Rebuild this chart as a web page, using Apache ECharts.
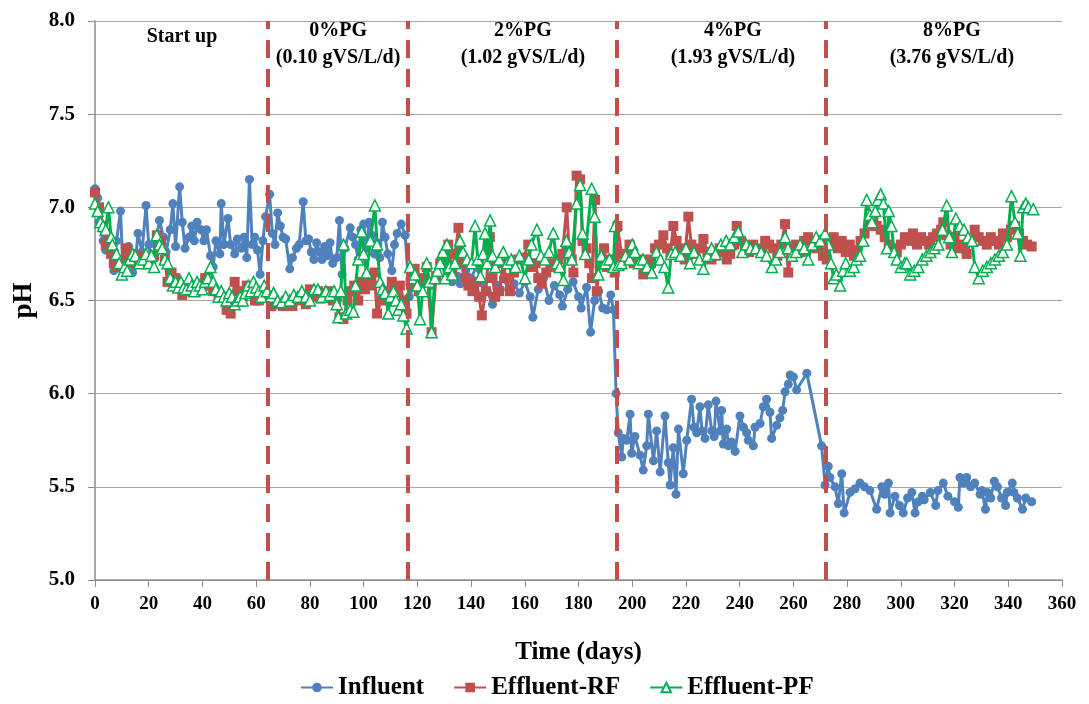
<!DOCTYPE html>
<html><head><meta charset="utf-8">
<script src="https://cdn.jsdelivr.net/npm/echarts@6/dist/echarts.min.js"></script>
<style>html,body{margin:0;padding:0;background:#fff}#c{width:1089px;height:704px}</style>
</head><body><div id="c"></div>
<script>
// ---- data ----
const influent = [[0,7.10],[1,7.05],[1.5,6.92],[3,6.82],[4,6.77],[5,6.84],[6,6.80],[7,6.66],[8,6.82],[9.5,6.98],[10.5,6.64],[11.5,6.72],[12.5,6.79],[14,6.65],[15,6.70],[16,6.86],[17.5,6.76],[19,7.01],[20,6.80],[21,6.71],[22.5,6.80],[24,6.93],[25.5,6.84],[26.5,6.76],[28,6.88],[29,7.02],[30,6.79],[31.5,7.11],[32.5,6.92],[33.5,6.78],[35,6.84],[36,6.90],[37,6.82],[38,6.92],[39.5,6.88],[40.5,6.82],[41.5,6.88],[43,6.74],[44,6.68],[45,6.82],[46.5,6.75],[47,7.02],[48,6.80],[49.5,6.94],[50.5,6.80],[52,6.75],[53,6.83],[54.5,6.78],[55.5,6.84],[56.5,6.73],[57.5,7.15],[58.5,6.80],[59.5,6.84],[60.5,6.77],[61.5,6.64],[62.5,6.82],[63.5,6.95],[65,7.07],
[66,6.86],[67,6.80],[68,6.97],[69,6.90],[70,6.84],[71,6.83],[72.5,6.67],[73.5,6.73],[75,6.78],[76,6.80],[77.5,7.03],[78.5,6.82],[79.5,6.83],[80.5,6.76],[81.5,6.72],[82.5,6.81],[83.5,6.76],[84.5,6.72],[85.5,6.79],[86.5,6.74],[87.5,6.81],[88.5,6.70],[90,6.73],[91,6.93],[92,6.64],[93,6.78],[95,6.89],[96,6.84],[97,6.80],[98,6.72],[99,6.88],[100,6.91],[101,6.78],[102,6.92],[103,6.85],[104,6.75],[105,6.81],[106,6.73],[107,6.92],[108,6.84],[109,6.75],[110.5,6.66],[111.5,6.80],[112.5,6.86],[114,6.91],[115.5,6.85],
[117,6.52],[119,6.60],[121,6.56],[123,6.62],[125,6.58],[127,6.64],[129.5,6.75],[131,6.66],[133,6.60],[135,6.63],[136,6.59],[138,6.66],[140,6.62],[142,6.68],[144,6.60],[146,6.55],[148,6.48],[150,6.58],[152,6.62],[154,6.56],[156,6.59],[158,6.54],[160,6.60],[162,6.52],[163,6.41],[165,6.56],[167,6.62],[169,6.50],[171,6.58],[173,6.53],[174,6.47],[176,6.56],[178,6.60],[180,6.52],[181,6.46],[183,6.57],[184.5,6.33],[186,6.50],[187.5,6.55],[189,6.46],[190.5,6.45],[192,6.53],[193,6.45],[194,6.00],
[194.8,5.79],[196.1,5.66],[196.7,5.76],[198,5.75],[199.2,5.89],[199.8,5.68],[201,5.77],[202.9,5.67],[204.1,5.59],[205.4,5.72],[206,5.89],[207.9,5.64],[209.1,5.80],[210.4,5.58],[212.2,5.88],[213.4,5.63],[214.1,5.51],[215.3,5.71],[216.3,5.46],[217.2,5.81],[219,5.57],[220.3,5.75],[222.1,5.97],[223,5.82],[224,5.79],[225.2,5.93],[226,5.80],[227.1,5.76],[228.3,5.94],[229.6,5.80],[230.5,5.77],[231.2,5.96],[232.7,5.80],[233.3,5.91],[233.9,5.73],[235.2,5.81],[235.8,5.72],[237,5.74],[238.3,5.69],[240.1,5.88],[241.4,5.82],[242.6,5.79],[243.2,5.75],[245.1,5.72],[245.7,5.82],[247.6,5.84],[248.8,5.93],[250,5.97],[251.3,5.90],[251.9,5.76],[253.8,5.83],[255,5.87],[256,5.91],[256.9,6.01],[258.1,6.05],[258.8,6.10],[260,6.09],[261.2,6.02],[265,6.11],[270.5,5.72],[271.8,5.51],
[273,5.61],[273.6,5.55],[275.5,5.50],[276.7,5.41],[278,5.57],[278.9,5.36],[281.1,5.47],[283,5.49],[284.8,5.52],[286.5,5.50],[288.5,5.48],[291,5.38],[292.9,5.50],[294,5.46],[295.4,5.52],[296,5.36],[297.8,5.45],[299.5,5.40],[300.9,5.36],[302.5,5.44],[304.1,5.47],[305.3,5.36],[306.5,5.42],[308,5.45],[308.7,5.43],[311,5.47],[313,5.40],[313.8,5.48],[315.8,5.52],[317.5,5.45],[320,5.42],[321.4,5.39],[322,5.55],[323.3,5.52],[324.5,5.55],[326,5.50],[327.5,5.52],[329.5,5.46],[330.2,5.48],[331.5,5.38],[332.2,5.47],[333.5,5.44],[334.8,5.53],[336,5.50],[337.5,5.44],[339,5.40],[339.6,5.47],[341.5,5.52],[342.1,5.47],[343.4,5.44],[345.3,5.38],[346.5,5.44],[348.7,5.42]];

const effluentRF = [[0,7.08],[1.5,7.00],[3,6.90],[4,6.80],[5,6.82],[6,6.75],[7,6.70],[8,6.68],[10,6.72],[11.5,6.78],[13,6.75],[14.5,6.70],[16,6.74],[18,6.72],[20,6.70],[22,6.74],[23,6.85],[24.5,6.82],[26,6.72],[27,6.60],[28.5,6.65],[30,6.62],[31,6.58],[32.5,6.53],[34,6.55],[36,6.58],[37.5,6.55],[39.5,6.56],[41,6.62],[42.5,6.58],[44,6.55],[46,6.53],[47.5,6.52],[49,6.45],[50.5,6.43],[52,6.60],[53.5,6.55],[55,6.52],[56.5,6.58],[58,6.55],[59.5,6.50],[61,6.50],[62.5,6.55],[64,6.52],
[65.5,6.47],[67,6.48],[68.5,6.48],[70,6.47],[71.5,6.50],[73.5,6.47],[75,6.50],[77,6.52],[78.5,6.48],[80,6.56],[81.5,6.52],[83,6.55],[84,6.51],[85.5,6.54],[87,6.55],[88.5,6.50],[90,6.52],[91,6.41],[92.5,6.40],[94,6.50],[95,6.55],[96.5,6.58],[98,6.50],[99,6.60],[100.5,6.56],[101.5,6.62],[103,6.58],[104,6.65],[105,6.43],[106.5,6.50],[107.5,6.55],[109,6.52],[110.5,6.60],[112,6.55],[113.5,6.58],[115,6.50],[116,6.43],
[117.5,6.60],[119,6.67],[120.5,6.55],[122,6.62],[123.5,6.68],[125.3,6.33],[127,6.63],[128.5,6.70],[130,6.72],[131.5,6.80],[133,6.65],[134,6.75],[135.3,6.89],[136.5,6.70],[138,6.62],[139,6.58],[140.5,6.55],[142,6.60],[143,6.52],[144,6.42],[145.5,6.55],[147,6.84],[148,6.62],[149,6.52],[150.5,6.55],[152,6.70],[153,6.62],[154.5,6.55],[156,6.65],[157.5,6.72],[159.5,6.73],[161.3,6.80],[162.5,6.68],[164,6.70],[165,6.62],[166.3,6.59],[168,6.65],[169.5,6.70],[171,6.68],[172.5,6.72],[174,6.75],[175.6,7.00],[176.5,6.78],[177.5,6.72],[178.1,6.65],[179.3,7.17],[180.6,7.15],[181.5,6.82],[183,6.78],[184,6.70],[185,6.62],[186.2,7.04],[186.8,6.55],[188,6.72],[189.5,6.78],[190.5,6.68],[192,6.72],[193.5,6.65],[194.5,6.90],
[196,6.75],[197.5,6.72],[199,6.80],[200.5,6.70],[202,6.72],[204.1,6.64],[205.5,6.72],[207,6.70],[208.5,6.78],[210,6.80],[211.6,6.85],[213,6.78],[214.2,6.75],[215.3,6.90],[216.5,6.82],[218,6.78],[219.5,6.72],[220.9,6.95],[222,6.80],[223.5,6.75],[225,6.78],[226.5,6.83],[228,6.76],[229.5,6.72],[231,6.74],[232.5,6.78],[234,6.76],[235.2,6.72],[236.5,6.75],[238,6.80],[238.9,6.90],[240.5,6.82],[242,6.78],[243.5,6.76],[245,6.80],[246.5,6.78],[248,6.76],[249.5,6.82],[251,6.80],[252.5,6.78],[254,6.74],[255.5,6.80],[256.9,6.91],[258.1,6.65],[259.5,6.78],[261,6.80],[262.5,6.76],[264,6.82],[265.5,6.84],[267,6.80],[268.5,6.78],[270,6.82],[271,6.74],
[272.4,6.72],[273.5,6.80],[275,6.84],[276.5,6.78],[278,6.82],[279.5,6.76],[281,6.80],[282.5,6.74],[283.6,6.77],[285,6.82],[286.5,6.86],[288,6.90],[289.8,6.95],[291,6.90],[292.5,6.88],[294,6.84],[295.5,6.80],[297,6.78],[298.5,6.76],[300,6.80],[301.5,6.84],[303,6.82],[304.5,6.86],[306,6.80],[307.5,6.84],[309,6.82],[310.5,6.80],[312,6.84],[313.5,6.86],[315,6.88],[315.8,6.92],[317,6.85],[318.5,6.80],[320,6.84],[321.5,6.78],[323,6.80],[324.5,6.75],[326,6.82],[327.5,6.88],[329,6.84],[330.5,6.82],[332,6.80],[333.5,6.84],[335,6.82],[336.5,6.80],[338,6.86],[339.5,6.84],[341,6.88],[342.5,6.90],[344,6.86],[345.5,6.82],[347,6.80],[348.7,6.79]];

const effluentPF = [[0,7.02],[1,6.98],[2,6.92],[3,6.90],[4,6.88],[5,7.00],[6,6.84],[6.5,6.80],[8,6.75],[9,6.70],[10,6.64],[11,6.68],[12,6.66],[13,6.72],[14,6.75],[15,6.74],[16.5,6.70],[18,6.72],[19,6.75],[20,6.70],[21,6.74],[22,6.68],[23,6.85],[24,6.80],[25,6.78],[26,6.72],[27,6.70],[28,6.62],[29,6.58],[30,6.60],[31,6.57],[32,6.60],[33,6.57],[34,6.56],[35,6.62],[36,6.58],[37,6.55],[38,6.60],[39,6.58],[40,6.56],[41,6.60],[42,6.62],[43,6.68],[44,6.60],[45,6.56],[46,6.52],[47,6.55],[48,6.52],[49,6.50],[50,6.54],[51,6.52],[52,6.48],[53,6.50],[54,6.52],[55,6.50],[56,6.54],[57,6.58],[58,6.55],[59,6.60],[60,6.57],[61,6.55],[62,6.52],[63,6.58],[64,6.55],
[65.5,6.52],[66.5,6.54],[68,6.50],[69.5,6.49],[71,6.52],[72.5,6.50],[74,6.53],[75.5,6.52],[77,6.55],[78.5,6.52],[80,6.50],[81.5,6.56],[83,6.56],[84.5,6.52],[86,6.55],[87.5,6.53],[89,6.55],[90,6.48],[90.6,6.41],[91.5,6.55],[92.5,6.80],[93.5,6.43],[95,6.45],[96.2,6.44],[97,6.58],[98,6.72],[99.3,6.87],[100,6.75],[101.1,6.65],[102.5,6.82],[104.2,7.01],[105,6.80],[106.1,6.60],[107,6.56],[108,6.54],[109.2,6.43],[110,6.52],[111.1,6.55],[112,6.50],[112.9,6.45],[114,6.48],[114.8,6.42],[116,6.35],
[117.3,6.68],[118,6.62],[119.1,6.64],[120,6.58],[121,6.40],[122,6.55],[123.5,6.70],[124.5,6.60],[125.3,6.33],[126.5,6.62],[127.5,6.66],[128.5,6.70],[129.5,6.76],[130.3,6.62],[131,6.80],[132,6.68],[133,6.64],[134,6.70],[135.9,6.82],[137,6.76],[138.5,6.72],[140.2,6.70],[141.5,6.90],[142.5,6.72],[143.5,6.63],[144.5,6.75],[145.2,6.86],[146,6.70],[147.1,6.93],[148,6.74],[149,6.68],[150.5,6.72],[152,6.76],[153.5,6.70],[155,6.72],[156.5,6.68],[158,6.74],[160.1,6.62],[161.5,6.72],[162.5,6.80],[164.5,6.88],[166,6.74],[167.5,6.72],[169,6.76],[170.6,6.86],[172,6.70],[173,6.68],[174.4,6.61],[175.5,6.82],[176.5,6.76],[177.5,6.72],[179.3,7.02],[180.6,7.12],[181.5,6.86],[182.5,6.75],[184.9,7.10],[186,6.95],[187.4,6.64],[188.5,6.74],[190,6.70],[191.5,6.72],[193,6.68],[193.6,6.90],[194.8,6.69],
[196,6.70],[197.5,6.74],[199,6.72],[200,6.80],[201,6.76],[202.5,6.70],[204,6.72],[205.5,6.68],[207.3,6.65],[209,6.76],[210.5,6.72],[212,6.68],[213.4,6.57],[214.5,6.75],[216,6.76],[218,6.74],[220,6.78],[221.5,6.70],[223,6.76],[225,6.72],[226.5,6.67],[228,6.74],[229.5,6.78],[231,6.75],[233,6.80],[235,6.82],[236.5,6.80],[238,6.84],[239.5,6.87],[241,6.76],[242.5,6.80],[244,6.78],[246,6.78],[248,6.76],[250,6.74],[252,6.68],[253.5,6.72],[255,6.76],[256.9,6.84],[258,6.78],[259.5,6.74],[261,6.76],[262.5,6.80],[264,6.78],[265.5,6.72],[267,6.80],[268.5,6.84],[270,6.82],[271.8,6.86],
[273,6.80],[274,6.70],[275,6.62],[276,6.64],[277.4,6.58],[278.5,6.66],[279.5,6.70],[281,6.66],[282.5,6.68],[283.5,6.72],[284.8,6.74],[286,6.82],[287.3,7.04],[288.5,6.96],[289.2,6.92],[290.5,6.98],[291.5,7.04],[292.5,7.07],[293.5,7.02],[294.8,6.78],[295.5,6.98],[296.5,6.90],[297.5,6.76],[298.5,6.72],[300,6.68],[301.5,6.70],[302.2,6.70],[303.5,6.64],[305,6.66],[306.5,6.68],[308,6.72],[309.5,6.74],[311,6.76],[312.5,6.78],[314,6.80],[315.5,6.88],[317.1,7.01],[318,6.84],[319,6.76],[320.5,6.94],[322,6.90],[323.5,6.88],[325,6.84],[326.5,6.82],[327.5,6.68],[329,6.62],[330.5,6.66],[332,6.68],[333.5,6.70],[335,6.72],[336.5,6.74],[338,6.76],[339.5,6.80],[341.2,7.06],[342.5,6.92],[343.5,6.86],[344.5,6.74],[345.5,7.00],[346.5,7.02],[347.5,7.00],[349.3,6.99]];

const phaseBoundaries = [64.4, 116.5, 194.3, 272];
const phaseLabels = ['Start up', '0%PG\n(0.10 gVS/L/d)', '2%PG\n(1.02 gVS/L/d)', '4%PG\n(1.93 gVS/L/d)', '8%PG\n(3.76 gVS/L/d)'];
const phaseLabelDays = [32.4, 90.5, 159.3, 237.5, 319];
const seriesNames = ['Influent', 'Effluent-RF', 'Effluent-PF'];

// ---- chart ----
const FONT = '"Liberation Serif", "Times New Roman", serif';
const chart = echarts.init(document.getElementById('c'), null, {renderer: 'canvas'});
const labelPoints = phaseLabels.map((t, i) => ({
  coord: [phaseLabelDays[i], i === 0 ? 7.915 : 7.875],
  value: t,
}));
chart.setOption({
  animation: false,
  backgroundColor: '#fff',
  grid: {left: 95, right: 27, top: 21, bottom: 124, containLabel: false, outerBoundsMode: 'none'},
  legend: {
    bottom: -1, left: 295, itemWidth: 32, itemHeight: 12, itemGap: 29,
    textStyle: {fontFamily: FONT, fontWeight: 'bold', fontSize: 25, color: '#000'},
    data: seriesNames
  },
  xAxis: {
    type: 'value', min: 0, max: 360, interval: 20,
    name: 'Time (days)', nameLocation: 'middle', nameGap: 60,
    nameTextStyle: {fontFamily: FONT, fontWeight: 'bold', fontSize: 25, color: '#000'},
    axisLine: {lineStyle: {color: '#8c8c8c', width: 1.5}},
    axisTick: {show: true, length: 7, lineStyle: {color: '#8c8c8c'}},
    axisLabel: {fontFamily: FONT, fontWeight: 'bold', fontSize: 19, color: '#000', margin: 15},
    splitLine: {show: false}
  },
  yAxis: {
    type: 'value', min: 5, max: 8, interval: 0.5,
    name: 'pH', nameLocation: 'middle', nameGap: 57,
    nameTextStyle: {fontFamily: FONT, fontWeight: 'bold', fontSize: 27, color: '#000'},
    axisLine: {show: true, lineStyle: {color: '#8c8c8c', width: 1.5}},
    axisTick: {show: true, length: 7, lineStyle: {color: '#8c8c8c'}},
    axisLabel: {fontFamily: FONT, fontWeight: 'bold', fontSize: 21, color: '#000', margin: 20,
      formatter: v => v.toFixed(1)},
    splitLine: {show: true, lineStyle: {color: '#a6a6a6', width: 1.2}}
  },
  series: [
    {
      name: seriesNames[0], type: 'line', data: influent,
      symbol: 'circle', symbolSize: 9,
      lineStyle: {color: '#4f81bd', width: 3},
      itemStyle: {color: '#4f81bd'},
      z: 2
    },
    {
      name: seriesNames[1], type: 'line', data: effluentRF,
      symbol: 'rect', symbolSize: 10,
      lineStyle: {color: '#c0504d', width: 3},
      itemStyle: {color: '#c0504d'},
      z: 3
    },
    {
      name: seriesNames[2], type: 'line', data: effluentPF,
      symbol: 'triangle', symbolSize: 11,
      lineStyle: {color: '#00b050', width: 3},
      itemStyle: {color: '#ffffff', borderColor: '#00b050', borderWidth: 1.5},
      z: 4,
      markLine: {
        silent: true, symbol: ['none', 'none'],
        label: {show: false},
        lineStyle: {color: '#c0504d', width: 4, type: [18, 11]},
        data: phaseBoundaries.map(d => ({xAxis: d}))
      },
      markPoint: {
        silent: true, symbol: 'circle', symbolSize: 0,
        label: {show: true, position: 'inside', fontFamily: FONT, fontWeight: 'bold', fontSize: 20,
          color: '#000', lineHeight: 27, align: 'center', verticalAlign: 'middle',
          formatter: p => p.value},
        data: labelPoints
      }
    }
  ]
});
</script></body></html>
